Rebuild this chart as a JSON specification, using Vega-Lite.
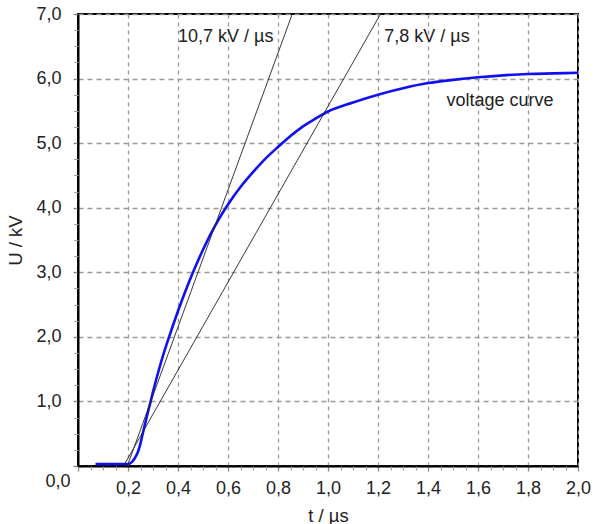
{
  "$schema": "https://vega.github.io/schema/vega-lite/v6.json",
  "width": 500,
  "height": 452,
  "autosize": {"type": "none"},
  "padding": {"left": 78, "top": 14, "right": 16, "bottom": 58},
  "background": "white",
  "config": {
    "view": {"stroke": "black", "strokeWidth": 2},
    "font": "Liberation Sans"
  },
  "datasets": {
    "curve": [
      {"t": 0.07, "U": 0.03}, {"t": 0.12, "U": 0.03}, {"t": 0.16, "U": 0.03}, {"t": 0.2, "U": 0.03},
      {"t": 0.215, "U": 0.06}, {"t": 0.227, "U": 0.12}, {"t": 0.24, "U": 0.22}, {"t": 0.25, "U": 0.35},
      {"t": 0.26, "U": 0.52}, {"t": 0.27, "U": 0.68}, {"t": 0.28, "U": 0.84}, {"t": 0.29, "U": 0.99},
      {"t": 0.3, "U": 1.15}, {"t": 0.32, "U": 1.44}, {"t": 0.34, "U": 1.71}, {"t": 0.36, "U": 1.95},
      {"t": 0.38, "U": 2.18}, {"t": 0.4, "U": 2.4}, {"t": 0.42, "U": 2.61}, {"t": 0.44, "U": 2.81},
      {"t": 0.46, "U": 3.0}, {"t": 0.48, "U": 3.18}, {"t": 0.5, "U": 3.35}, {"t": 0.52, "U": 3.51},
      {"t": 0.54, "U": 3.66}, {"t": 0.56, "U": 3.8}, {"t": 0.58, "U": 3.93}, {"t": 0.6, "U": 4.05},
      {"t": 0.65, "U": 4.32}, {"t": 0.7, "U": 4.55}, {"t": 0.75, "U": 4.76}, {"t": 0.8, "U": 4.94},
      {"t": 0.85, "U": 5.11}, {"t": 0.9, "U": 5.26}, {"t": 0.95, "U": 5.38}, {"t": 1.0, "U": 5.49},
      {"t": 1.1, "U": 5.63}, {"t": 1.2, "U": 5.75}, {"t": 1.3, "U": 5.85},
      {"t": 1.4, "U": 5.93}, {"t": 1.5, "U": 5.98}, {"t": 1.6, "U": 6.02}, {"t": 1.7, "U": 6.05},
      {"t": 1.8, "U": 6.07}, {"t": 1.9, "U": 6.08}, {"t": 2.0, "U": 6.09}
    ],
    "tangents": [
      {"line": "10,7", "t": 0.197, "U": 0.0}, {"line": "10,7", "t": 0.857, "U": 7.0},
      {"line": "7,8", "t": 0.182, "U": 0.0}, {"line": "7,8", "t": 1.21, "U": 7.0}
    ],
    "labels": [
      {"t": 0.4, "U": 6.64, "text": "10,7 kV / µs"},
      {"t": 1.225, "U": 6.64, "text": "7,8 kV / µs"},
      {"t": 1.474, "U": 5.65, "text": "voltage curve"}
    ]
  },
  "resolve": {"axis": {"x": "independent", "y": "independent"}},
  "layer": [
    {
      "data": {"name": "curve"},
      "mark": {"type": "line", "color": "#1010f0", "strokeWidth": 2.6, "interpolate": "monotone"},
      "encoding": {
        "x": {
          "field": "t", "type": "quantitative",
          "scale": {"domain": [0, 2], "nice": false},
          "axis": {
            "orient": "bottom",
            "title": "t / µs",
            "values": [0, 0.2, 0.4, 0.6, 0.8, 1.0, 1.2, 1.4, 1.6, 1.8, 2.0],
            "labelExpr": "datum.value === 0 ? '' : replace(format(datum.value, '.1f'), '.', ',')",
            "labelFontSize": 18, "labelColor": "#222", "labelPadding": 8,
            "labelFlush": false,
            "titleFontSize": 18.5, "titleFontWeight": "normal", "titleColor": "#222", "titlePadding": 9,
            "grid": true, "gridColor": "#9a9a9a", "gridDash": [4, 4], "gridWidth": 1.3,
            "tickColor": "#888", "tickSize": 5, "tickWidth": 1.3,
            "domainColor": "black", "domainWidth": 2
          }
        },
        "y": {
          "field": "U", "type": "quantitative",
          "scale": {"domain": [0, 7], "nice": false},
          "axis": {
            "orient": "left",
            "title": "U / kV",
            "values": [0, 1, 2, 3, 4, 5, 6, 7],
            "labelExpr": "replace(format(datum.value, '.1f'), '.', ',')",
            "labelFontSize": 18, "labelColor": "#222",
            "labelPadding": {"condition": {"test": "datum.value === 0", "value": 3}, "value": 12},
            "labelOffset": {"condition": {"test": "datum.value === 0", "value": 15}, "value": 0},
            "labelFlush": false,
            "titleFontSize": 18.5, "titleFontWeight": "normal", "titleColor": "#222", "titlePadding": 10,
            "grid": true, "gridColor": "#9a9a9a", "gridDash": [5, 4], "gridWidth": 1.3,
            "tickColor": "#888", "tickSize": 5, "tickWidth": 1.3,
            "domainColor": "black", "domainWidth": 2
          }
        }
      }
    },
    {
      "data": {"name": "tangents"},
      "mark": {"type": "line", "color": "#222", "strokeWidth": 0.9},
      "encoding": {
        "x": {
          "field": "t", "type": "quantitative",
          "scale": {"domain": [0, 2], "nice": false},
          "axis": {
            "orient": "bottom", "title": null, "labels": false, "grid": false, "domain": false,
            "values": [0.05, 0.1, 0.15, 0.25, 0.3, 0.35, 0.45, 0.5, 0.55, 0.65, 0.7, 0.75, 0.85, 0.9, 0.95, 1.05, 1.1, 1.15, 1.25, 1.3, 1.35, 1.45, 1.5, 1.55, 1.65, 1.7, 1.75, 1.85, 1.9, 1.95],
            "tickColor": "#999", "tickSize": 4, "tickWidth": 1
          }
        },
        "y": {
          "field": "U", "type": "quantitative",
          "scale": {"domain": [0, 7], "nice": false},
          "axis": {
            "orient": "left", "title": null, "labels": false, "grid": false, "domain": false,
            "values": [0.25, 0.5, 0.75, 1.25, 1.5, 1.75, 2.25, 2.5, 2.75, 3.25, 3.5, 3.75, 4.25, 4.5, 4.75, 5.25, 5.5, 5.75, 6.25, 6.5, 6.75],
            "tickColor": "#999", "tickSize": 4, "tickWidth": 1
          }
        },
        "detail": {"field": "line", "type": "nominal"}
      }
    },
    {
      "data": {"name": "labels"},
      "mark": {"type": "text", "align": "left", "baseline": "middle", "fontSize": 18, "color": "#222", "font": "Liberation Sans"},
      "encoding": {
        "x": {"field": "t", "type": "quantitative", "scale": {"domain": [0, 2], "nice": false}, "axis": null},
        "y": {"field": "U", "type": "quantitative", "scale": {"domain": [0, 7], "nice": false}, "axis": null},
        "text": {"field": "text", "type": "nominal"}
      }
    }
  ]
}
